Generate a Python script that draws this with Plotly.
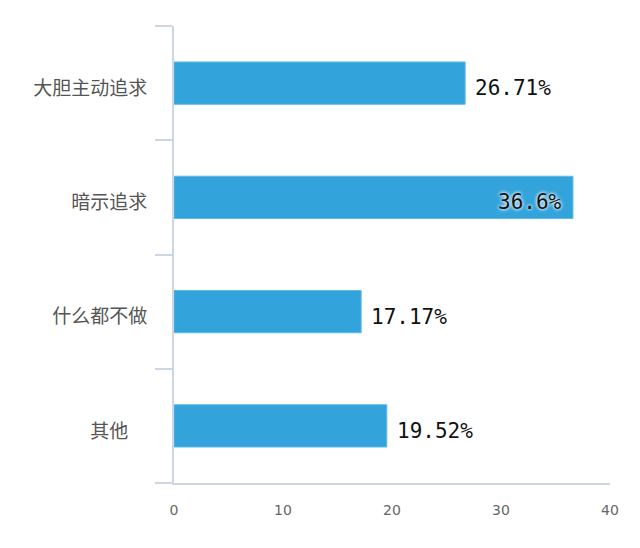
import plotly.graph_objects as go

categories = ["大胆主动追求", "暗示追求", "什么都不做", "其他\u3000"]
values = [26.71, 36.6, 17.17, 19.52]
value_labels = ["26.71%", "36.6%", "17.17%", "19.52%"]
x_ticks = [0, 10, 20, 30, 40]

BAR = "#33A3DC"
AXIS = "#C9D7E7"

fig = go.Figure()
fig.add_trace(go.Bar(
    x=values, y=categories, orientation="h",
    marker=dict(color=BAR, line=dict(color="#5CB9EA", width=1)),
    width=0.37, hoverinfo="skip",
))

X_MAX = 40
for v, c, t in zip(values, categories, value_labels):
    inside = v > X_MAX - 7
    fig.add_annotation(
        x=v, y=c, text=t, showarrow=False,
        xanchor="right" if inside else "left",
        xshift=-9 if inside else 8, yshift=-5,
        font=dict(family="DejaVu Sans Mono", size=21, color="#111111",
                  shadow="0 0 4px #ffffff, 0 0 3px #ffffff" if inside else "none"),
    )

# page body has an 8px default margin, so the figure is 8px smaller on each axis
fig.update_layout(
    width=632, height=540,
    margin=dict(l=166, r=30, t=18, b=65),
    plot_bgcolor="white", paper_bgcolor="white",
    showlegend=False,
    xaxis=dict(
        range=[0, X_MAX], tickvals=x_ticks, showgrid=False, zeroline=False,
        showline=True, linecolor=AXIS, linewidth=2,
        ticks="outside", ticklen=13, tickcolor="rgba(0,0,0,0)",
        tickfont=dict(family="DejaVu Sans", size=14, color="#666666"),
        fixedrange=True, automargin=False,
    ),
    yaxis=dict(
        categoryorder="array", categoryarray=categories[::-1],
        showgrid=False, zeroline=False,
        showline=True, linecolor=AXIS, linewidth=2,
        ticks="outside", tickson="boundaries", ticklen=17, tickcolor=AXIS, tickwidth=2,
        ticklabelshift=5, ticklabelstandoff=21,
        tickfont=dict(family="Noto Sans CJK SC", size=19, color="#555555"),
        fixedrange=True, automargin=False,
    ),
)

fig.write_html("out.html")
